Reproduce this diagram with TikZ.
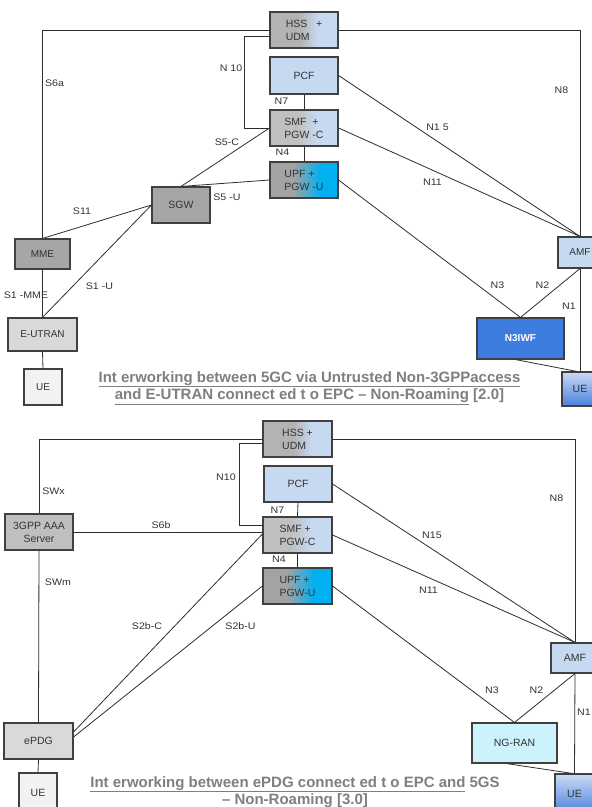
\documentclass[tikz,border=0pt]{standalone}
\usepackage{fontspec}
\setmainfont{Liberation Sans}
\newfontfamily\lblfont{Liberation Sans}[FakeStretch=1.12]
\usetikzlibrary{calc}
\definecolor{bord}{HTML}{404040}
\definecolor{linec}{HTML}{2E2E2E}
\definecolor{txt}{HTML}{333333}
\definecolor{capc}{HTML}{7F7F7F}
\definecolor{lblue}{HTML}{C6D9F1}
\definecolor{sgray}{HTML}{B3B3B3}
\definecolor{sgrayl}{HTML}{C0C0C0}
\definecolor{dgray}{HTML}{A3A3A3}
\definecolor{cyanb}{HTML}{00B0F0}
\definecolor{midgray}{HTML}{A6A6A6}
\definecolor{ltgray}{HTML}{D9D9D9}
\definecolor{vltgray}{HTML}{F2F2F2}
\definecolor{aaagray}{HTML}{BFBFBF}
\definecolor{strongblue}{HTML}{3D7DDF}
\definecolor{uetop}{HTML}{C9DBF5}
\definecolor{uebot}{HTML}{4A80DC}
\definecolor{ngcyan}{HTML}{CCF2FB}
\pgfdeclarehorizontalshading{hssshade}{100bp}{color(0bp)=(sgray); color(47bp)=(sgray); color(60bp)=(lblue); color(100bp)=(lblue)}
\pgfdeclarehorizontalshading{smfshade}{100bp}{color(0bp)=(sgrayl); color(45bp)=(sgrayl); color(60bp)=(lblue); color(100bp)=(lblue)}
\pgfdeclarehorizontalshading{upfshade}{100bp}{color(0bp)=(dgray); color(42bp)=(dgray); color(62bp)=(cyanb); color(100bp)=(cyanb)}
\begin{document}
\begin{tikzpicture}[x=1pt,y=-1pt,
  box/.style={draw=bord, line width=1.1pt, text=txt, font=\fontsize{10.5}{13}\selectfont, inner sep=1pt, align=center},
  sbox/.style={box, font=\fontsize{10}{12}\selectfont},
  lbox/.style={box, align=left},
  conn/.style={draw=linec, line width=0.8pt},
  lbl/.style={text=txt, font=\lblfont\fontsize{9.5}{11}\selectfont, inner sep=0pt},
  capt/.style={text=capc, font=\bfseries\fontsize{15}{17.5}\selectfont, inner sep=0pt, align=center}]
\fill[white] (0,0) rectangle (592,807);
\useasboundingbox (0,0) rectangle (592,807);

% ---------------- top diagram ----------------
\node[lbox, shading=hssshade, minimum width=68pt, minimum height=36pt] (hss1) at (304,30) {HSS\ \ \ +\\UDM};
\node[box, fill=lblue, minimum width=68pt, minimum height=37pt] (pcf1) at (304,75.5) {PCF};
\node[lbox, shading=smfshade, minimum width=68pt, minimum height=36pt] (smf1) at (304,128) {SMF\ \ +\\PGW -C};
\node[lbox, shading=upfshade, minimum width=68pt, minimum height=36pt] (upf1) at (304,180) {UPF +\\PGW -U};
\node[box, fill=midgray, minimum width=58pt, minimum height=36pt] (sgw) at (181,205) {SGW};
\node[sbox, fill=midgray, minimum width=55pt, minimum height=30pt] (mme) at (42.5,254) {MME};
\node[sbox, fill=ltgray, minimum width=69pt, minimum height=33pt] (eutran) at (42.5,334.5) {E-UTRAN};
\node[sbox, fill=vltgray, minimum width=38pt, minimum height=36pt] (ue1) at (43,387) {UE};
\node[sbox, fill=lblue, minimum width=44pt, minimum height=31pt] (amf1) at (580,252.5) {AMF};
\node[sbox, fill=strongblue, text=white, minimum width=87pt, minimum height=41pt, font=\bfseries\fontsize{10}{12}\selectfont] (n3iwf) at (520.5,338.5) {N3IWF};
\node[box, top color=uetop, bottom color=uebot, minimum width=36pt, minimum height=34pt] (ue2) at (580,389) {UE};

\draw[conn] (hss1.west) -| (mme.north);
\draw[conn] (hss1.east) -| (amf1.north);
\draw[conn] ([yshift=-6pt]hss1.west) -- ++(-25pt,0pt) |- (smf1.west);
\draw[conn] (pcf1.south) -- (smf1.north);
\draw[conn] (smf1.south) -- (upf1.north);
\draw[conn] (sgw.north) -- (smf1.west);
\draw[conn] (sgw.north) -- (upf1.west);
\draw[conn] (mme.north) -- (sgw.west);
\draw[conn] (eutran.north) -- (sgw.west);
\draw[conn] (mme.south) -- (eutran.north);
\draw[conn] (eutran.south) -- (ue1.north);
\draw[conn] (pcf1.east) -- (amf1.north);
\draw[conn] (smf1.east) -- (amf1.north);
\draw[conn] (upf1.east) -- (n3iwf.north);
\draw[conn] (amf1.south) -- (n3iwf.north);
\draw[conn] (amf1.south) -- (ue2.north);
\draw[conn] ([xshift=-5pt]n3iwf.south) -- ([xshift=-3pt]ue2.north);

\node[lbl] (t-s6a) at (54.5,83) {S6a};
\node[lbl] (t-n10) at (231,68) {N 10};
\node[lbl] (t-n7) at (281.5,101) {N7};
\node[lbl] (t-n4) at (282.5,152) {N4};
\node[lbl] (t-s5c) at (227,142) {S5-C};
\node[lbl] (t-s5u) at (227,197) {S5 -U};
\node[lbl] (t-s11) at (82,211) {S11};
\node[lbl] (t-s1mme) at (26,295) {S1 -MME};
\node[lbl] (t-s1u) at (99.5,286) {S1 -U};
\node[lbl] (t-n8) at (561.5,90) {N8};
\node[lbl] (t-n15) at (437.5,127) {N1 5};
\node[lbl] (t-n11) at (432.5,182) {N11};
\node[lbl] (t-n3) at (497.5,285) {N3};
\node[lbl] (t-n2) at (542.5,285) {N2};
\node[lbl] (t-n1) at (569,306) {N1};

\node[capt] (cap1) at (309.5,388) {\underline{Int erworking between 5GC via Untrusted Non-3GPPaccess}\\\underline{and E-UTRAN connect ed t o EPC -- Non-Roaming} [2.0]};

% ---------------- bottom diagram ----------------
\node[lbox, shading=hssshade, minimum width=69pt, minimum height=36pt] (hss2) at (297.5,439) {HSS +\\UDM};
\node[box, fill=lblue, minimum width=68pt, minimum height=36pt] (pcf2) at (298,484) {PCF};
\node[lbox, shading=smfshade, minimum width=69pt, minimum height=36pt] (smf2) at (297.5,535) {SMF +\\PGW-C};
\node[lbox, shading=upfshade, minimum width=69pt, minimum height=36pt] (upf2) at (297.5,586) {UPF +\\PGW-U};
\node[box, fill=aaagray, minimum width=68pt, minimum height=36pt] (aaa) at (39,532) {3GPP AAA\\Server};
\node[box, fill=ltgray, minimum width=69pt, minimum height=36pt] (epdg) at (38.5,741) {ePDG};
\node[box, fill=vltgray, minimum width=38pt, minimum height=39pt] (ue3) at (38,792.5) {UE};
\node[box, fill=lblue, minimum width=48pt, minimum height=30pt] (amf2) at (575,658) {AMF};
\node[box, fill=ngcyan, minimum width=85pt, minimum height=40pt] (ngran) at (514.5,743) {NG-RAN};
\node[box, top color=uetop, bottom color=uebot, minimum width=39pt, minimum height=40pt] (ue4) at (574.5,794) {UE};

\draw[conn] (hss2.west) -| (aaa.north);
\draw[conn] (hss2.east) -| (amf2.north);
\draw[conn] ([yshift=-4pt]hss2.west) -- ++(-23pt,0pt) |- ([yshift=10pt]smf2.west);
\draw[conn] (aaa.east) -- (aaa.east -| smf2.west);
\draw[conn] (aaa.south) -- (epdg.north);
\draw[conn] ([yshift=9pt]epdg.east) -- ([yshift=1pt]smf2.west);
\draw[conn] ([yshift=4pt]epdg.east) -- (upf2.west);
\draw[conn] (pcf2.south) -- (smf2.north);
\draw[conn] (smf2.south) -- (upf2.north);
\draw[conn] (pcf2.east) -- (amf2.north);
\draw[conn] (smf2.east) -- (amf2.north);
\draw[conn] (upf2.east) -- (ngran.north);
\draw[conn] (amf2.south) -- (ngran.north);
\draw[conn] (amf2.south) -- (ue4.north);
\draw[conn] (epdg.south) -- (ue3.north);
\draw[conn] ([xshift=-8pt]ngran.south) -- ([xshift=-2pt]ue4.north);

\node[lbl] (b-swx) at (53.5,491) {SWx};
\node[lbl] (b-s6b) at (161,525) {S6b};
\node[lbl] (b-swm) at (58,582) {SWm};
\node[lbl] (b-n10) at (226,477) {N10};
\node[lbl] (b-n7) at (277.5,510) {N7};
\node[lbl] (b-n4) at (279,559) {N4};
\node[lbl] (b-s2bc) at (147,626) {S2b-C};
\node[lbl] (b-s2bu) at (240.5,626) {S2b-U};
\node[lbl] (b-n8) at (556.5,498) {N8};
\node[lbl] (b-n15) at (432,535) {N15};
\node[lbl] (b-n11) at (428.5,590) {N11};
\node[lbl] (b-n3) at (492,690) {N3};
\node[lbl] (b-n2) at (536.5,690) {N2};
\node[lbl] (b-n1) at (584,712) {N1};

\node[capt] (cap2) at (295,793) {\underline{Int erworking between ePDG connect ed t o EPC and} 5GS\\\underline{-- Non-Roaming} [3.0]};
\end{tikzpicture}
\end{document}
